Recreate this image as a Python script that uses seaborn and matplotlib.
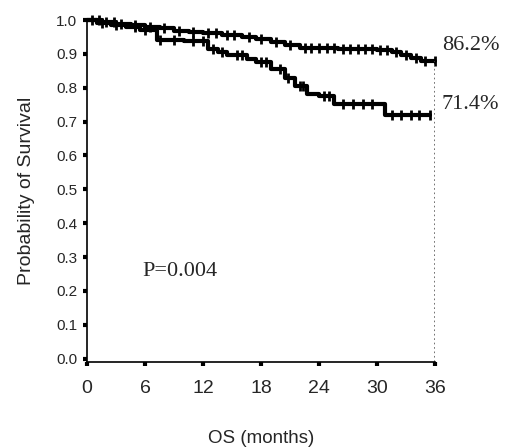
import numpy as np
import pandas as pd
import matplotlib
matplotlib.use("Agg")
import matplotlib.pyplot as plt
import seaborn as sns

# Kaplan-Meier steps
hi_time = [0, 1.5, 3, 4.5, 6, 7.5, 9, 10.5, 12, 14, 16, 17.5, 19, 20.5, 22,
           26, 30, 31.5, 32.5, 33.5, 34.5, 36]
hi_surv = [1.0, 0.994, 0.988, 0.984, 0.98, 0.975, 0.968, 0.965, 0.962, 0.957,
           0.95, 0.943, 0.935, 0.925, 0.918, 0.914, 0.912, 0.905, 0.897, 0.888,
           0.879, 0.879]
hi_cens = [0.5, 1.2, 2, 2.8, 3.5, 5, 6.5, 8, 9.5, 11, 12.5, 13.3, 14.5, 15.2,
           16.8, 18, 19.5, 21, 22.5, 23.2, 24, 24.8, 25.5, 26.5, 27.2, 28, 28.8,
           29.5, 30.3, 31, 32, 33, 34, 35, 36]

lo_time = [0, 1, 2.5, 4, 5.5, 7.2, 10, 12.5, 13.5, 14.5, 16.5, 17.5, 19,
           20.5, 21.5, 22.8, 24, 25.5, 30.8, 35.5]
lo_surv = [1.0, 0.992, 0.985, 0.978, 0.97, 0.942, 0.938, 0.915, 0.905,
           0.898, 0.885, 0.876, 0.855, 0.83, 0.805, 0.782, 0.775, 0.752, 0.718,
           0.718]
lo_cens = [1.5, 3, 5, 6, 7.5, 9, 11, 12, 13, 14, 15.5, 16, 18, 18.5, 20, 20.8,
           22, 22.3, 24.5, 25, 26.5, 27.5, 28.5, 29.5, 31.5, 32.5, 33.5, 34.3, 35.5]

x_ticks = [0, 6, 12, 18, 24, 30, 36]
y_ticks = [0.0, 0.1, 0.2, 0.3, 0.4, 0.5, 0.6, 0.7, 0.8, 0.9, 1.0]
end_labels = ["86.2%", "71.4%"]
p_text = "P=0.004"


def censor_points(times, survs, cens):
    # put each censor tick on the step curve
    idx = np.searchsorted(times, cens, side="right") - 1
    return pd.DataFrame({"t": cens, "s": np.array(survs)[idx]})


sns.set_theme(style="ticks")
plt.rcParams["font.family"] = ["Liberation Sans", "DejaVu Sans"]

fig = plt.figure(figsize=(5.08, 4.48), dpi=100)
ax = fig.add_axes([87 / 508, 86 / 448, 348 / 508, 342 / 448])

for times, survs, cens in [(hi_time, hi_surv, hi_cens), (lo_time, lo_surv, lo_cens)]:
    df = pd.DataFrame({"t": times, "s": survs})
    sns.lineplot(data=df, x="t", y="s", drawstyle="steps-post", color="black",
                 linewidth=3, ax=ax, clip_on=False)
    cp = censor_points(times, survs, cens)
    sns.scatterplot(data=cp, x="t", y="s", marker="|", s=45, linewidth=2,
                    color="black", ax=ax, clip_on=False)

ax.vlines(36, -0.01, hi_surv[-1], colors="0.35", linestyles=":", linewidth=1.2)

ax.set_xlim(0, 36)
ax.set_ylim(-0.01, 1.0)
ax.set_xticks(x_ticks)
ax.set_yticks(y_ticks)
ax.set_xticklabels([str(v) for v in x_ticks], fontsize=14)
ax.set_yticklabels([f"{v:.1f}" for v in y_ticks], fontsize=11)
ax.tick_params(axis="x", length=3, width=3, pad=10, color="black")
ax.tick_params(axis="y", length=3, width=3, pad=4, color="black")
for sp in ["left", "bottom"]:
    ax.spines[sp].set_color("black")
    ax.spines[sp].set_linewidth(1.2)
sns.despine(ax=ax)

ax.set_xlabel("OS (months)", fontsize=13.5, labelpad=24)
ax.set_ylabel("Probability of Survival", fontsize=14, labelpad=15)

serif = ["Liberation Serif", "DejaVu Serif"]
ax.text(36.7, 0.926, end_labels[0], fontsize=16, family=serif, va="center", ha="left")
ax.text(36.7, 0.749, end_labels[1], fontsize=16, family=serif, va="center", ha="left")
ax.text(5.7, 0.256, p_text, fontsize=16, family=serif, va="center", ha="left")

fig.savefig("out.png", dpi=100)
